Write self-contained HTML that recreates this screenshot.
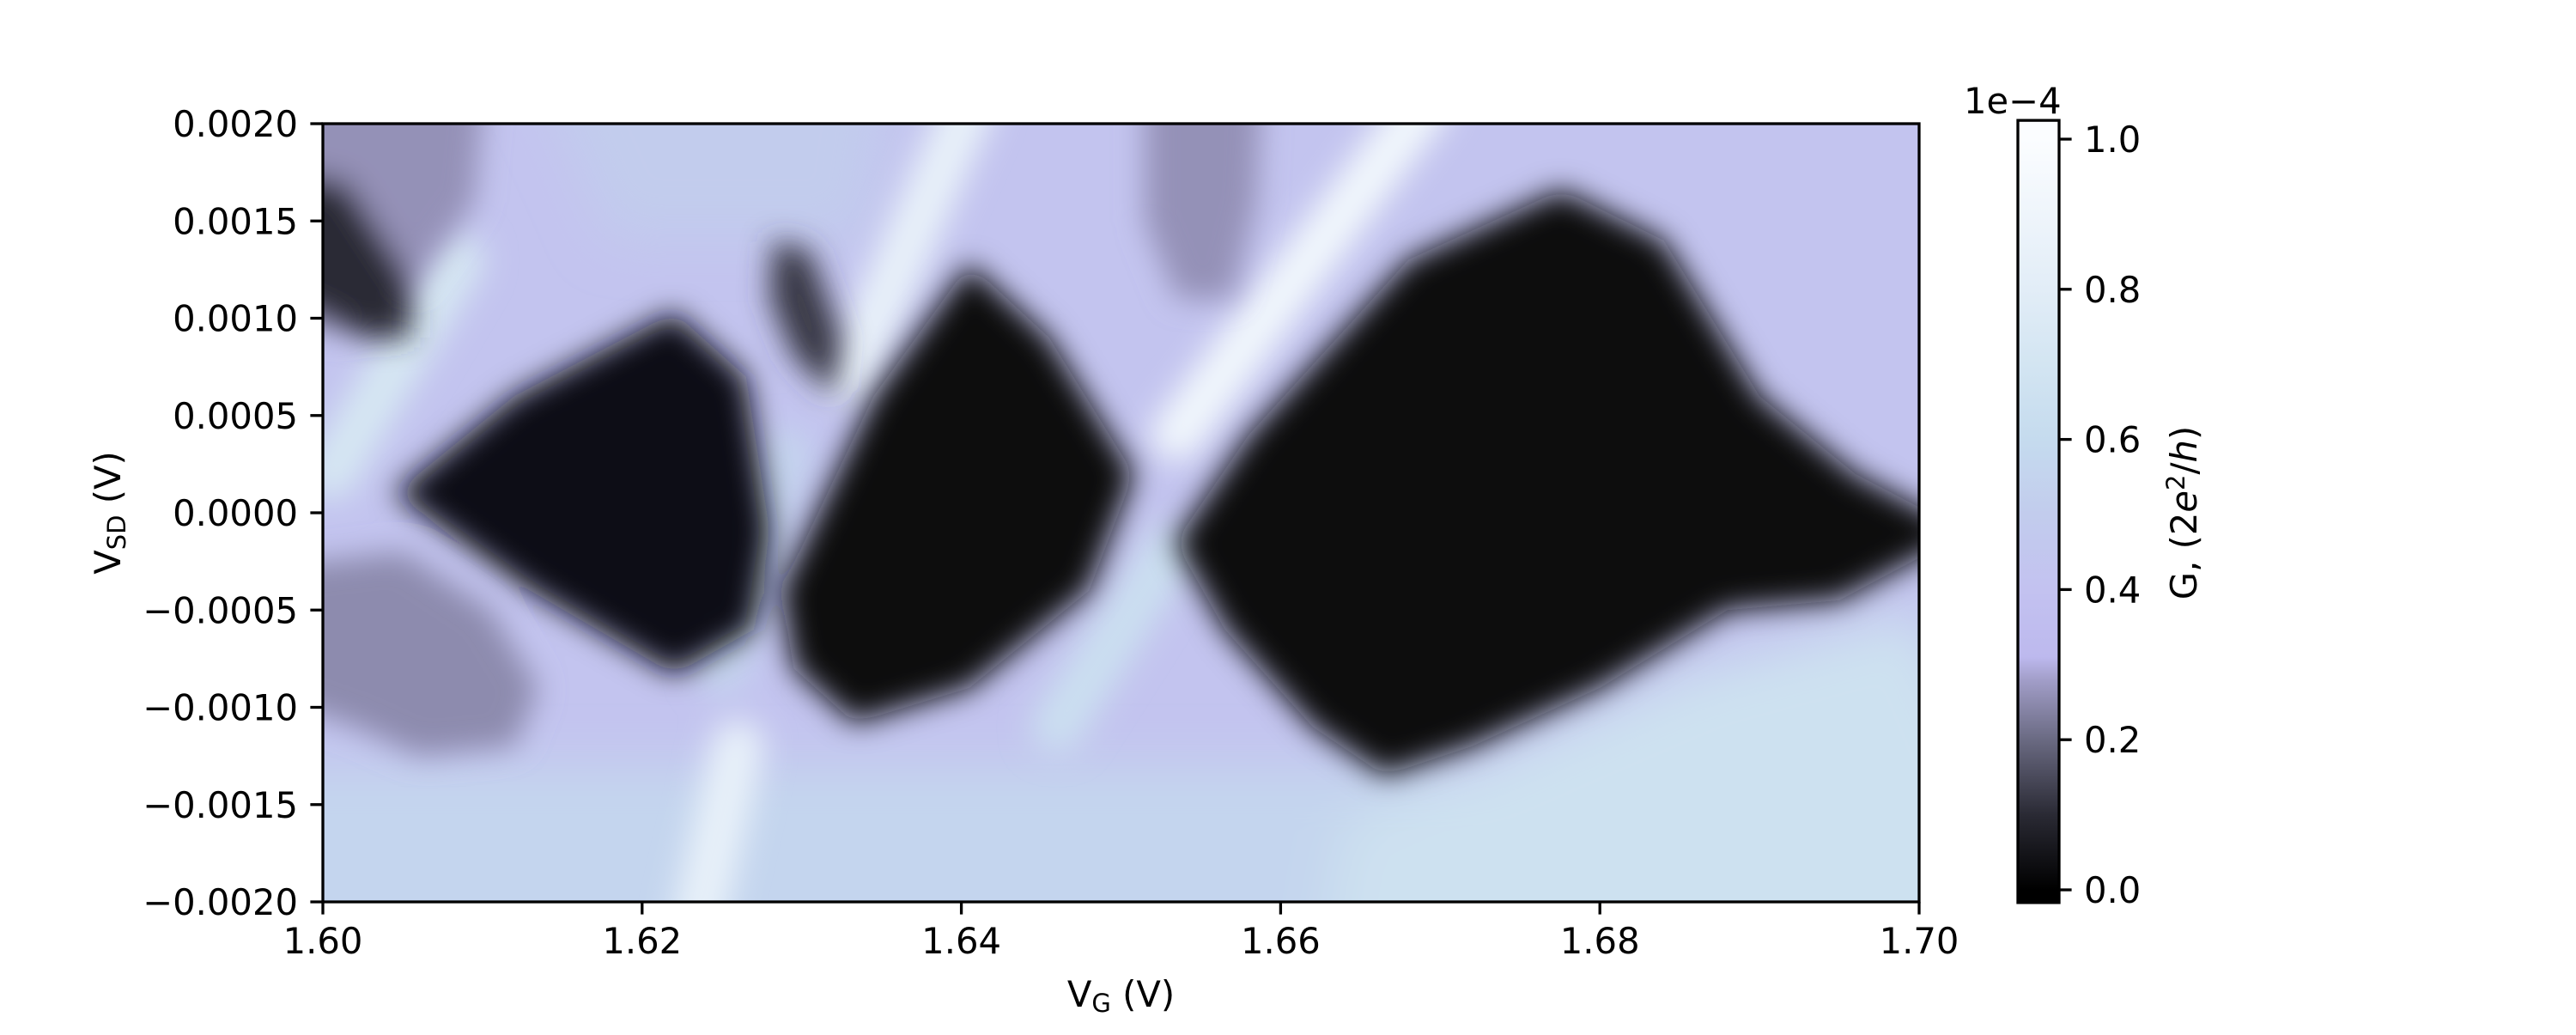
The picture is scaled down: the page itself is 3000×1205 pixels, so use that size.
<!DOCTYPE html>
<html><head><meta charset="utf-8"><style>
html,body{margin:0;padding:0;background:#fff}
svg text{font-family:"DejaVu Sans","Liberation Sans",sans-serif;fill:#000}
</style></head><body>
<svg id="chart" width="3000" height="1200" viewBox="0 0 3000 1200" xmlns="http://www.w3.org/2000/svg">
<defs>
<clipPath id="plotclip"><rect x="376" y="144" width="1859" height="906"/></clipPath>
<filter id="softbg" x="-30%" y="-30%" width="160%" height="160%"><feGaussianBlur stdDeviation="30"/></filter>
<filter id="softst" x="-30%" y="-30%" width="160%" height="160%"><feGaussianBlur stdDeviation="18"/></filter>
<filter id="soft" x="-20%" y="-20%" width="140%" height="140%"><feGaussianBlur stdDeviation="17"/></filter>
<linearGradient id="cbgrad" x1="0" y1="1" x2="0" y2="0"></linearGradient>
</defs>
<g id="plot" clip-path="url(#plotclip)"></g>
<g id="axes"></g>
</svg>
<script>
// ---- data (VG in V, VSD in V, conductance in units of 1e-4 * 2e^2/h) ----
const xTicks = [1.60, 1.62, 1.64, 1.66, 1.68, 1.70];
const xTickLabels = ["1.60","1.62","1.64","1.66","1.68","1.70"];
const yTicks = [-0.002,-0.0015,-0.001,-0.0005,0,0.0005,0.001,0.0015,0.002];
const yTickLabels = ["\u22120.0020","\u22120.0015","\u22120.0010","\u22120.0005","0.0000","0.0005","0.0010","0.0015","0.0020"];
const cbTicks = [0,0.2,0.4,0.6,0.8,1.0];
const cbTickLabels = ["0.0","0.2","0.4","0.6","0.8","1.0"];
const backgroundLevel = 0.42;
const bgRegionNames = ["bottom-band","bottom-right-light","top-middle-blue"];
const bgRegionValues = [0.56, 0.66, 0.5];
const bgRegionShapes = [
 [[1.590,-0.0013],[1.710,-0.0013],[1.710,-0.0025],[1.590,-0.0025]],
 [[1.672,-0.0013],[1.686,-0.0008],[1.700,-0.0005],[1.710,-0.0025],[1.662,-0.0025],[1.664,-0.0016]],
 [[1.612,0.0025],[1.636,0.0025],[1.634,0.0014],[1.618,0.0014]]
];
const streakStarts = [[1.6005,0.0002],[1.6405,0.0021],[1.6690,0.0021],[1.6235,-0.0021],[1.6460,-0.0011],[1.6290,0.0003]];
const streakEnds   = [[1.6085,0.0013],[1.6330,0.0007],[1.6535,0.0004],[1.6260,-0.0012],[1.6530,-0.0002],[1.6250,-0.0008]];
const streakValues = [0.72, 0.85, 0.92, 0.85, 0.64, 0.55];
const regionNames = ["blob-top-left","blob-top-left-core","blob-lower-left","blob-top-mid","blob-small","diamond-1","diamond-2","diamond-3"];
const regionValues = [0.26, 0.1, 0.25, 0.26, 0.12, 0.04, 0.03, 0.03];
const regionShapes = [
 [[1.595,0.0025],[1.6105,0.0025],[1.6095,0.0016],[1.606,0.0012],[1.604,0.0009],[1.595,0.0010]],
 [[1.595,0.0018],[1.6015,0.0017],[1.6055,0.0012],[1.6055,0.0009],[1.6025,0.0009],[1.595,0.0012]],
 [[1.595,-0.0003],[1.605,-0.0002],[1.6105,-0.0005],[1.6135,-0.0009],[1.612,-0.0012],[1.606,-0.00125],[1.602,-0.0011],[1.595,-0.0009]],
 [[1.6515,0.0025],[1.659,0.0025],[1.6585,0.0016],[1.657,0.0011],[1.6535,0.0011],[1.6515,0.0015]],
 [[1.6282,0.0014],[1.6305,0.00135],[1.6325,0.0009],[1.632,0.0006],[1.6295,0.0008],[1.628,0.0011]],
 [[1.6045,0.0001],[1.612,0.0006],[1.622,0.00103],[1.6265,0.0007],[1.628,-0.0001],[1.627,-0.0006],[1.622,-0.00083],[1.613,-0.0004]],
 [[1.6287,-0.0004],[1.6345,0.0006],[1.6405,0.00128],[1.6455,0.0009],[1.6508,0.0002],[1.648,-0.0004],[1.6405,-0.0009],[1.6333,-0.00108],[1.6295,-0.0008]],
 [[1.6534,-0.00015],[1.658,0.0004],[1.668,0.0013],[1.6776,0.00166],[1.684,0.0014],[1.690,0.0006],[1.696,0.0002],[1.703,-0.0001],[1.695,-0.00045],[1.688,-0.0005],[1.680,-0.0009],[1.672,-0.0012],[1.6665,-0.00135],[1.662,-0.0011],[1.6565,-0.0006]]
];
// colormap stops
const cmapPos = [0,0.1,0.2,0.28,0.31,0.4,0.5,0.6,0.7,0.8,1.0];
const cmapCol = ["#000000","#2a2a34","#6a6a82","#a29ec9","#bdb9ee","#c3c2f0","#c2cced","#c5dbee","#d3e5f2","#e2edf7","#fbfdff"];

// ---- axes functions ----
const X0=376,X1=2235,Y0=144,Y1=1050;
const sx=v=>X0+(v-1.60)/0.10*(X1-X0);
const sy=v=>Y1-(v+0.002)/0.004*(Y1-Y0);
const CB0=1036,CBs=874; const cy=v=>CB0-v*CBs;
function hex(h){return [1,3,5].map(i=>parseInt(h.substr(i,2),16));}
function cmap(v){
 v=Math.max(0,Math.min(1,v));
 for(let i=1;i<cmapPos.length;i++){ if(v<=cmapPos[i]){const t=(v-cmapPos[i-1])/(cmapPos[i]-cmapPos[i-1]);const a=hex(cmapCol[i-1]),b=hex(cmapCol[i]);return "rgb("+a.map((c,k)=>Math.round(c+(b[k]-c)*t)).join(",")+")";}}
 return cmapCol[cmapCol.length-1];
}
const NS="http://www.w3.org/2000/svg";
function mk(tag,attrs,parent){const e=document.createElementNS(NS,tag);for(const k in attrs)e.setAttribute(k,attrs[k]);parent.appendChild(e);return e;}
const plot=document.getElementById('plot'), axes=document.getElementById('axes');
const pts=a=>a.map(q=>sx(q[0])+','+sy(q[1])).join(' ');

const bg=mk('rect',{x:X0-80,y:Y0-80,width:X1-X0+160,height:Y1-Y0+160,fill:cmap(backgroundLevel)},plot);


const g1=mk('g',{filter:'url(#softbg)'},plot);
bgRegionShapes.forEach((s,i)=>{
 const p=mk('polygon',{points:pts(s),fill:cmap(bgRegionValues[i])},g1);
 
 
});
const g2=mk('g',{filter:'url(#softst)'},plot);
streakStarts.forEach((s,i)=>{
 const l=mk('line',{x1:sx(s[0]),y1:sy(s[1]),x2:sx(streakEnds[i][0]),y2:sy(streakEnds[i][1]),stroke:cmap(streakValues[i]),'stroke-width':60,'stroke-linecap':'round'},g2);
 
 
});
const g3=mk('g',{filter:'url(#soft)'},plot);
regionShapes.forEach((s,i)=>{
 const p=mk('polygon',{points:pts(s),fill:cmap(regionValues[i])},g3);
 
 
});

// frame
const fr=mk('rect',{x:X0,y:Y0,width:X1-X0,height:Y1-Y0,fill:'none',stroke:'#000','stroke-width':3.3},axes);


xTicks.forEach((v,i)=>{
 const x=sx(v);
 const t=mk('line',{x1:x,y1:Y1,x2:x,y2:Y1+14.6,stroke:'#000','stroke-width':3.3},axes);
 
 
 const l=mk('text',{x:x,y:1110,'font-size':41.7,'text-anchor':'middle'},axes);l.textContent=xTickLabels[i];
 
 
});
yTicks.forEach((v,i)=>{
 const y=sy(v);
 const t=mk('line',{x1:X0-14.6,y1:y,x2:X0,y2:y,stroke:'#000','stroke-width':3.3},axes);
 
 
 const l=mk('text',{x:347,y:y+15,'font-size':41.7,'text-anchor':'end'},axes);l.textContent=yTickLabels[i];
 
 
});
const xt=mk('text',{x:(X0+X1)/2,y:1172,'font-size':41.7,'text-anchor':'middle'},axes);
xt.innerHTML='V<tspan font-size="29" dy="6">G</tspan><tspan dy="-6"> (V)</tspan>';


const yt=mk('text',{x:0,y:0,'font-size':41.7,'text-anchor':'middle',transform:'translate(140,597) rotate(-90)'},axes);
yt.innerHTML='V<tspan font-size="29" dy="6">SD</tspan><tspan dy="-6"> (V)</tspan>';



// colorbar
const grad=document.getElementById('cbgrad');
cmapPos.forEach((p,i)=>{mk('stop',{offset:p,'stop-color':cmapCol[i]},grad);});
const vmin=-0.017,vmax=1.025;
grad.setAttribute('gradientUnits','userSpaceOnUse');
grad.setAttribute('x1',0);grad.setAttribute('x2',0);
grad.setAttribute('y1',cy(0));grad.setAttribute('y2',cy(1));
const cb=mk('rect',{x:2350,y:cy(vmax),width:48,height:cy(vmin)-cy(vmax),fill:'url(#cbgrad)',stroke:'#000','stroke-width':3.3},axes);


cbTicks.forEach((v,i)=>{
 const y=cy(v);
 const t=mk('line',{x1:2398,y1:y,x2:2412.6,y2:y,stroke:'#000','stroke-width':3.3},axes);
 
 
 const l=mk('text',{x:2427,y:y+15,'font-size':41.7},axes);l.textContent=cbTickLabels[i];
 
 
});
const off=mk('text',{x:2287,y:132,'font-size':41.7},axes);off.textContent='1e\u22124';


const ct=mk('text',{x:0,y:0,'font-size':41.7,'text-anchor':'middle',transform:'translate(2558,597) rotate(-90)'},axes);
ct.innerHTML='G, (2<tspan font-style="italic">e</tspan><tspan font-size="29" dy="-14">2</tspan><tspan dy="14">/</tspan><tspan font-style="italic">h</tspan>)';


</script>
</body></html>
